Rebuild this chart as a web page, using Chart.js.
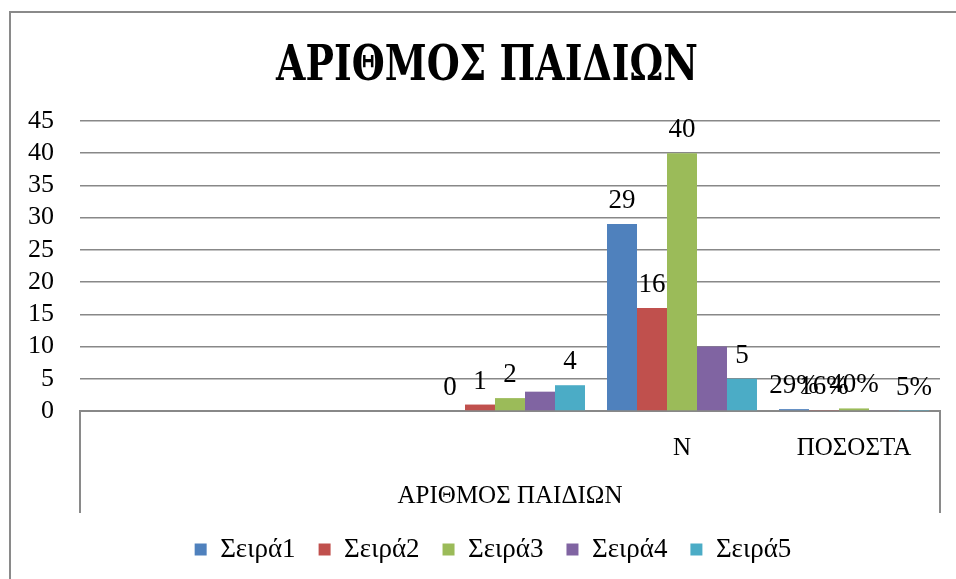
<!DOCTYPE html>
<html>
<head>
<meta charset="utf-8">
<script src="https://cdn.jsdelivr.net/npm/chart.js@4"></script>
<style>
  html, body { margin: 0; padding: 0; background: #fff; overflow: hidden; }
  #wrap { width: 956px; height: 579px; position: relative; overflow: hidden; }
  #c { position: absolute; left: 0; top: 0; }
</style>
</head>
<body>
<div id="wrap"><canvas id="c" width="986" height="579"></canvas></div>
<script>
const chartTitle = 'ΑΡΙΘΜΟΣ ΠΑΙΔΙΩΝ';
const categories = ['', '', '', 'N', 'ΠΟΣΟΣΤΑ'];
const groupLabel = 'ΑΡΙΘΜΟΣ ΠΑΙΔΙΩΝ';
const seriesNames = ['Σειρά1', 'Σειρά2', 'Σειρά3', 'Σειρά4', 'Σειρά5'];
const s1 = [null, null, 0, 29, 0.29];
const s2 = [null, null, 1, 16, 0.16];
const s3 = [null, null, 2, 40, 0.40];
const s4 = [null, null, 3, 10, 0.10];
const s5 = [null, null, 4, 5, 0.05];
const showLabel = [true, true, true, false, true];
const percentCategory = 4;
const yTicks = [0, 5, 10, 15, 20, 25, 30, 35, 40, 45];

const colors = ['#4F81BD', '#C0504D', '#9BBB59', '#8064A2', '#4BACC6'];
const serif = "'Liberation Serif', 'Times New Roman', serif";

const seriesData = [s1, s2, s3, s4, s5];
const datasets = seriesData.map((d, i) => ({
  label: seriesNames[i],
  data: d,
  backgroundColor: colors[i],
  borderWidth: 0,
  showLabels: showLabel[i]
}));

const borderPlugin = {
  id: 'outerBorder',
  beforeDraw(chart) {
    const ctx = chart.ctx;
    ctx.save();
    ctx.strokeStyle = '#8a8a8a';
    ctx.lineWidth = 2;
    ctx.strokeRect(10, 12, 1000, 1000);
    ctx.restore();
  }
};

const titlePlugin = {
  id: 'condensedTitle',
  afterDraw(chart) {
    const ctx = chart.ctx;
    ctx.save();
    ctx.font = "bold 48px 'DejaVu Serif Condensed', 'DejaVu Serif', serif";
    ctx.fillStyle = '#000';
    ctx.textAlign = 'center';
    ctx.textBaseline = 'alphabetic';
    ctx.translate(487, 80);
    ctx.scale(0.877, 1);
    ctx.fillText(chartTitle, 0, 0);
    ctx.restore();
  }
};

const boxPlugin = {
  id: 'catBox',
  afterDraw(chart) {
    const ctx = chart.ctx;
    const a = chart.chartArea;
    const bottom = chart.scales.x.bottom;
    ctx.save();
    ctx.strokeStyle = '#8a8a8a';
    ctx.lineWidth = 2;
    ctx.beginPath();
    ctx.moveTo(a.left, a.bottom);
    ctx.lineTo(a.left, bottom);
    ctx.moveTo(a.right, a.bottom);
    ctx.lineTo(a.right, bottom);
    ctx.stroke();
    ctx.restore();
  }
};

const labelPlugin = {
  id: 'barLabels',
  afterDatasetsDraw(chart) {
    const ctx = chart.ctx;
    ctx.save();
    ctx.font = "27px " + serif;
    ctx.fillStyle = '#000';
    ctx.textAlign = 'center';
    ctx.textBaseline = 'alphabetic';
    chart.data.datasets.forEach((ds, i) => {
      if (!ds.showLabels) return;
      const meta = chart.getDatasetMeta(i);
      meta.data.forEach((bar, j) => {
        const v = ds.data[j];
        if (v === null || v === undefined) return;
        const txt = j === percentCategory ? Math.round(v * 100) + '%' : String(v);
        ctx.fillText(txt, bar.x, bar.y - 16);
      });
    });
    ctx.restore();
  }
};

new Chart(document.getElementById('c'), {
  type: 'bar',
  data: { labels: categories, datasets },
  plugins: [borderPlugin, labelPlugin, boxPlugin, titlePlugin],
  options: {
    responsive: false,
    animation: false,
    devicePixelRatio: 1,
    layout: { padding: { left: 2, right: 2, top: 121, bottom: 6 } },
    datasets: { bar: { categoryPercentage: 0.872, barPercentage: 1.0 } },
    plugins: {
      title: { display: false },
      legend: {
        position: 'bottom',
        labels: {
          color: '#000',
          boxWidth: 12,
          boxHeight: 12,
          padding: 23,
          font: { family: serif, size: 27 }
        }
      },
      tooltip: { enabled: false }
    },
    scales: {
      y: {
        min: 0,
        max: 45,
        afterBuildTicks(axis) { axis.ticks = yTicks.map(v => ({ value: v })); },
        ticks: { color: '#000', font: { family: serif, size: 26 }, padding: 26, autoSkip: false },
        grid: { color: '#888888', lineWidth: 1.5, drawTicks: false },
        border: { display: false }
      },
      yRightSpace: {
        position: 'right',
        display: true,
        grid: { display: false, drawTicks: false },
        ticks: { display: false },
        border: { display: false },
        afterFit(axis) { axis.width = 44; }
      },
      x: {
        position: 'bottom',
        ticks: { color: '#000', font: { family: serif, size: 25 }, padding: 22, maxRotation: 0, autoSkip: false },
        grid: { display: false, drawTicks: false },
        border: { display: true, color: '#888888', width: 2 },
        title: {
          display: true,
          text: groupLabel,
          color: '#000',
          font: { family: serif, size: 25 },
          padding: { top: -4, bottom: 2 }
        }
      }
    }
  }
});
</script>
</body>
</html>
